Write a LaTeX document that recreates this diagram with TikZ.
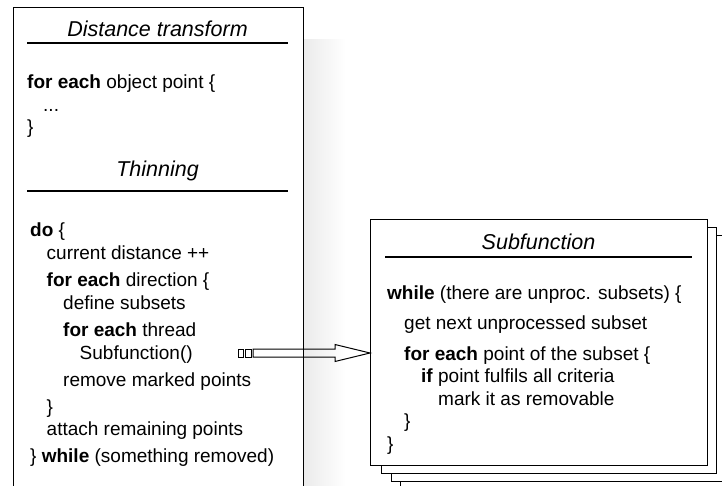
\documentclass[tikz,border=0pt]{standalone}
\usepackage{fontspec}
\setmainfont{Liberation Sans}
\begin{document}
\begin{tikzpicture}[x=1pt,y=-1pt,
  body/.style={anchor=base west, inner sep=0pt, font=\fontsize{19}{21}\selectfont},
  ttl/.style={anchor=base, inner sep=0pt, font=\fontsize{21.5}{24}\selectfont\itshape},
  rulel/.style={line width=1.7pt},
  panel/.style={draw, fill=white, line width=1.4pt, anchor=north west, inner sep=0pt},
  blk/.style={line width=1pt}]
\useasboundingbox (0,0) rectangle (722,486);
\clip (0,0) rectangle (722,486);
% soft shadow right of the left panel
\shade[left color=black!8, right color=white] (303,40) rectangle (346,486);
% left panel (open at the bottom)
\node[panel, fill=none, minimum width=290pt, minimum height=520pt] (lbox) at (13,7) {};
\node[ttl] (t1) at (157.5,37) {Distance transform};
\draw[rulel] (27,43) -- (288,43);
\node[body] (l1) at (27,89) {\textbf{for each} object point \{};
\node[body] (l2) at (43,111.5) {...};
\node[body] (l3) at (27,134) {\}};
\node[ttl] (t2) at (157.5,177) {Thinning};
\draw[rulel] (27,191) -- (288,191);
\node[body] (d1) at (30,236.5) {\textbf{do} \{};
\node[body] (d2) at (46.5,259) {current distance ++};
\node[body] (d3) at (46.5,286.5) {\textbf{for each} direction \{};
\node[body] (d4) at (63,309) {define subsets};
\node[body] (d5) at (63,336.5) {\textbf{for each} thread};
\node[body] (d6) at (79.5,359) {Subfunction()};
\node[body] (d7) at (63,386.5) {remove marked points};
\node[body] (d8) at (46.5,413) {\}};
\node[body] (d9) at (46.5,435) {attach remaining points};
\node[body] (d10) at (30,462) {\} \textbf{while} (something removed)};
% stacked subfunction panels
\node[panel, minimum width=340pt, minimum height=246pt] (b4) at (400,243) {};
\node[panel, minimum width=339pt, minimum height=246pt] (b3) at (391,235) {};
\node[panel, minimum width=335pt, minimum height=246pt] (b2) at (381,227) {};
\node[panel, minimum width=337pt, minimum height=246pt] (sub) at (370,219) {};
\node[ttl] (t3) at (538.5,249) {Subfunction};
\draw[rulel] (385,257) -- (692,257);
\node[body] (s1) at (387,299) {\textbf{while} (there are unproc. subsets) \{};
\node[body] (s2) at (404,329.5) {get next unprocessed subset};
\node[body] (s3) at (404,360) {\textbf{for each} point of the subset \{};
\node[body] (s4) at (421,382.5) {\textbf{if} point fulfils all criteria};
\node[body] (s5) at (438,405) {mark it as removable};
\node[body] (s6) at (404,427.5) {\}};
\node[body] (s7) at (387,450) {\}};
% call arrow
\coordinate (tip) at ([yshift=6pt]sub.west |- d6.base);
\draw[blk, shift={(tip)}] (-117,-4) -- (-35,-4) -- (-35,-8.5) -- (0,0) -- (-35,8.5) -- (-35,4) -- (-117,4) -- cycle;
\draw[blk, shift={(tip)}] (-132,-4) rectangle (-127,4);
\draw[blk, shift={(tip)}] (-125,-4) rectangle (-119,4);
\end{tikzpicture}
\end{document}
